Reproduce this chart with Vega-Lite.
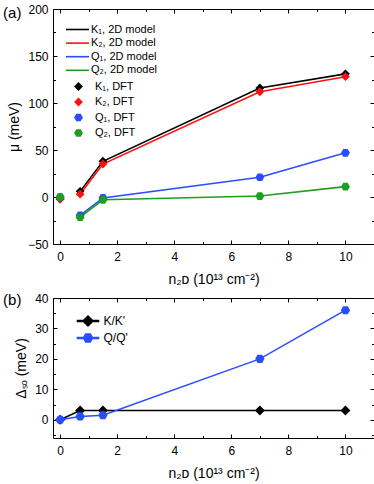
{
  "$schema": "https://vega.github.io/schema/vega-lite/v6.json",
  "padding": {"left": 2, "top": 2, "right": 0, "bottom": 2},
  "spacing": 4,
  "config": {
    "font": "Liberation Sans",
    "view": {"stroke": "black", "strokeWidth": 1},
    "axis": {
      "domain": false, "grid": false,
      "labelFont": "Liberation Sans", "labelFontSize": 12, "labelColor": "black",
      "tickColor": "black", "tickSize": -4, "tickWidth": 1, "labelPadding": 9,
      "titleFont": "Liberation Sans", "titleFontSize": 14, "titleFontWeight": "normal", "titleColor": "black"
    },
    "legend": {"labelFont": "Liberation Sans", "labelColor": "black", "padding": 0}
  },
  "datasets": {
    "modelA": [
      {"n": 0.7, "mu": 6, "band": "K₁, 2D model"},
      {"n": 1.5, "mu": 38, "band": "K₁, 2D model"},
      {"n": 7, "mu": 116, "band": "K₁, 2D model"},
      {"n": 10, "mu": 131, "band": "K₁, 2D model"},
      {"n": 0.7, "mu": 3, "band": "K₂, 2D model"},
      {"n": 1.5, "mu": 35, "band": "K₂, 2D model"},
      {"n": 7, "mu": 112, "band": "K₂, 2D model"},
      {"n": 10, "mu": 128, "band": "K₂, 2D model"},
      {"n": 0.7, "mu": -19.5, "band": "Q₁, 2D model"},
      {"n": 1.5, "mu": -1, "band": "Q₁, 2D model"},
      {"n": 7, "mu": 21, "band": "Q₁, 2D model"},
      {"n": 10, "mu": 47, "band": "Q₁, 2D model"},
      {"n": 0.7, "mu": -21.5, "band": "Q₂, 2D model"},
      {"n": 1.5, "mu": -3, "band": "Q₂, 2D model"},
      {"n": 7, "mu": 1, "band": "Q₂, 2D model"},
      {"n": 10, "mu": 11, "band": "Q₂, 2D model"}
    ],
    "dftA": [
      {"n": 0, "mu": -2, "band": "K₁, DFT"},
      {"n": 0.7, "mu": 6, "band": "K₁, DFT"},
      {"n": 1.5, "mu": 38, "band": "K₁, DFT"},
      {"n": 7, "mu": 116, "band": "K₁, DFT"},
      {"n": 10, "mu": 131, "band": "K₁, DFT"},
      {"n": 0, "mu": -2.5, "band": "K₂, DFT"},
      {"n": 0.7, "mu": 3, "band": "K₂, DFT"},
      {"n": 1.5, "mu": 35, "band": "K₂, DFT"},
      {"n": 7, "mu": 112, "band": "K₂, DFT"},
      {"n": 10, "mu": 128, "band": "K₂, DFT"},
      {"n": 0, "mu": 0, "band": "Q₁, DFT"},
      {"n": 0.7, "mu": -19.5, "band": "Q₁, DFT"},
      {"n": 1.5, "mu": -1, "band": "Q₁, DFT"},
      {"n": 7, "mu": 21, "band": "Q₁, DFT"},
      {"n": 10, "mu": 47, "band": "Q₁, DFT"},
      {"n": 0, "mu": 0, "band": "Q₂, DFT"},
      {"n": 0.7, "mu": -21.5, "band": "Q₂, DFT"},
      {"n": 1.5, "mu": -3, "band": "Q₂, DFT"},
      {"n": 7, "mu": 1, "band": "Q₂, DFT"},
      {"n": 10, "mu": 11, "band": "Q₂, DFT"}
    ],
    "labelA": [{"label": "(a)", "n": -2.0, "mu": 200}],
    "dataB": [
      {"n": 0, "d": 0, "s": "K/K'"},
      {"n": 0.7, "d": 3, "s": "K/K'"},
      {"n": 1.5, "d": 3, "s": "K/K'"},
      {"n": 7, "d": 3, "s": "K/K'"},
      {"n": 10, "d": 3, "s": "K/K'"},
      {"n": 0, "d": 0, "s": "Q/Q'"},
      {"n": 0.7, "d": 1.1, "s": "Q/Q'"},
      {"n": 1.5, "d": 1.5, "s": "Q/Q'"},
      {"n": 7, "d": 20, "s": "Q/Q'"},
      {"n": 10, "d": 36, "s": "Q/Q'"}
    ],
    "labelB": [{"label": "(b)", "n": -2.0, "d": 40}]
  },
  "resolve": {"scale": {"x": "independent", "y": "independent", "shape": "independent", "color": "independent", "fill": "independent", "stroke": "independent", "size": "independent"}},
  "vconcat": [
    {
      "width": 321, "height": 235,
      "resolve": {"axis": {"x": "independent", "y": "independent"}},
      "layer": [
        {
          "data": {"name": "modelA"},
          "mark": {"type": "line", "strokeWidth": 1.6},
          "encoding": {
            "x": {"field": "n", "type": "quantitative", "scale": {"domain": [-0.25, 11], "nice": false, "zero": false},
              "axis": {"orient": "bottom", "values": [0,1,2,3,4,5,6,7,8,9,10], "labelExpr": "datum.value % 2 === 0 ? datum.label : ''", "title": "n₂ᴅ (10¹³ cm⁻²)", "labelPadding": 11, "titlePadding": 10,
                "tickSize": {"condition": {"test": "datum.value % 2 === 0", "value": -4}, "value": -2.5}}},
            "y": {"field": "mu", "type": "quantitative", "scale": {"domain": [-50, 200], "nice": false, "zero": false},
              "axis": {"orient": "left", "values": [-50,-25,0,25,50,75,100,125,150,175,200], "labelExpr": "datum.value % 50 === 0 ? datum.label : ''", "title": "μ (meV)", "titlePadding": 6,
                "tickSize": {"condition": {"test": "datum.value % 50 === 0", "value": -4}, "value": -2.5}}},
            "stroke": {"field": "band", "type": "nominal",
              "scale": {"domain": ["K₁, 2D model", "K₂, 2D model", "Q₁, 2D model", "Q₂, 2D model"], "range": ["#000000", "#ff1010", "#2a4dff", "#1e9e1e"]},
              "legend": {"orient": "none", "legendX": 19, "legendY": 15, "title": null, "symbolType": "M-2.5,0L2.5,0", "symbolSize": 85, "symbolStrokeWidth": 1.6, "labelFontSize": 11, "labelOffset": 8, "rowPadding": 1.6}}
          }
        },
        {
          "data": {"name": "dftA"},
          "mark": {"type": "point", "filled": true, "opacity": 1, "size": 78},
          "encoding": {
            "x": {"field": "n", "type": "quantitative", "axis": null},
            "y": {"field": "mu", "type": "quantitative", "axis": null},
            "fill": {"field": "band", "type": "nominal",
              "scale": {"domain": ["K₁, DFT", "K₂, DFT", "Q₁, DFT", "Q₂, DFT"], "range": ["#000000", "#ff1010", "#2a4dff", "#1e9e1e"]},
              "legend": {"orient": "none", "legendX": 20, "legendY": 72, "title": null, "symbolSize": 78, "labelFontSize": 11, "labelOffset": 11, "rowPadding": 0.5}},
            "shape": {"field": "band", "type": "nominal",
              "scale": {"domain": ["K₁, DFT", "K₂, DFT", "Q₁, DFT", "Q₂, DFT"], "range": ["diamond", "diamond", "M-1,0L-0.5,-0.866L0.5,-0.866L1,0L0.5,0.866L-0.5,0.866Z", "M-1,0L-0.5,-0.866L0.5,-0.866L1,0L0.5,0.866L-0.5,0.866Z"]},
              "legend": {"orient": "none", "legendX": 20, "legendY": 72, "title": null, "symbolSize": 78, "labelFontSize": 11, "labelOffset": 11, "rowPadding": 0.5}}
          }
        },
        {
          "data": {"name": "labelA"},
          "mark": {"type": "text", "align": "left", "baseline": "middle", "fontSize": 15, "dy": 4, "clip": false, "color": "black"},
          "encoding": {
            "x": {"field": "n", "type": "quantitative", "axis": null},
            "y": {"field": "mu", "type": "quantitative", "axis": null},
            "text": {"field": "label"}
          }
        },
        {
          "data": {"name": "dftA"},
          "mark": {"type": "point", "opacity": 0},
          "encoding": {
            "x": {"field": "n", "type": "quantitative", "axis": {"orient": "top", "values": [0,1,2,3,4,5,6,7,8,9,10], "labels": false, "title": null,
              "tickSize": {"condition": {"test": "datum.value % 2 === 0", "value": -4}, "value": -2.5}}},
            "y": {"field": "mu", "type": "quantitative", "axis": {"orient": "right", "values": [-50,-25,0,25,50,75,100,125,150,175,200], "labels": false, "title": null,
              "tickSize": {"condition": {"test": "datum.value % 50 === 0", "value": -4}, "value": -2.5}}}
          }
        }
      ]
    },
    {
      "width": 321, "height": 140,
      "resolve": {"axis": {"x": "independent", "y": "independent"}},
      "layer": [
        {
          "data": {"name": "dataB"},
          "mark": {"type": "line", "strokeWidth": 1.5},
          "encoding": {
            "x": {"field": "n", "type": "quantitative", "scale": {"domain": [-0.25, 11], "nice": false, "zero": false},
              "axis": {"orient": "bottom", "values": [0,1,2,3,4,5,6,7,8,9,10], "labelExpr": "datum.value % 2 === 0 ? datum.label : ''", "title": "n₂ᴅ (10¹³ cm⁻²)", "labelPadding": 11, "titlePadding": 10,
                "tickSize": {"condition": {"test": "datum.value % 2 === 0", "value": -4}, "value": -2.5}}},
            "y": {"field": "d", "type": "quantitative", "scale": {"domain": [-6, 40], "nice": false, "zero": false},
              "axis": {"orient": "left", "values": [-5,0,5,10,15,20,25,30,35,40], "labelExpr": "datum.value % 10 === 0 ? datum.label : ''", "title": "Δₛₒ (meV)", "titlePadding": 6,
                "tickSize": {"condition": {"test": "datum.value % 10 === 0", "value": -4}, "value": -2.5}}},
            "color": {"field": "s", "type": "nominal",
              "scale": {"domain": ["K/K'", "Q/Q'"], "range": ["#000000", "#2a4dff"]},
              "legend": {"orient": "none", "legendX": 29, "legendY": 17, "title": null, "symbolSize": 84, "labelFontSize": 12, "labelOffset": 9.5, "rowPadding": 1}}
          }
        },
        {
          "data": {"name": "dataB"},
          "transform": [{"filter": "false"}],
          "mark": {"type": "point", "filled": true, "opacity": 1},
          "encoding": {
            "x": {"field": "n", "type": "quantitative", "axis": null},
            "y": {"field": "d", "type": "quantitative", "axis": null},
            "color": {"field": "s", "type": "nominal", "scale": {"domain": ["K/K'", "Q/Q'"], "range": ["#000000", "#2a4dff"]}, "legend": null},
            "shape": {"field": "s", "type": "nominal", "scale": {"domain": ["K/K'", "Q/Q'"], "range": ["M-2.3,-0.13L2.3,-0.13L2.3,0.13L-2.3,0.13ZM-1.1,0L0,-1.1L1.1,0L0,1.1Z", "M-2.3,-0.13L2.3,-0.13L2.3,0.13L-2.3,0.13ZM-1,0L-0.5,-0.866L0.5,-0.866L1,0L0.5,0.866L-0.5,0.866Z"]}, "legend": null}
          }
        },
        {
          "data": {"name": "dataB"},
          "transform": [{"filter": "datum.s === \"K/K'\""}],
          "mark": {"type": "point", "filled": true, "opacity": 1, "shape": "diamond", "size": 100, "color": "#000000"},
          "encoding": {
            "x": {"field": "n", "type": "quantitative", "axis": null},
            "y": {"field": "d", "type": "quantitative", "axis": null}
          }
        },
        {
          "data": {"name": "dataB"},
          "transform": [{"filter": "datum.s === \"Q/Q'\""}],
          "mark": {"type": "point", "filled": true, "opacity": 1, "shape": "M-1,0L-0.5,-0.866L0.5,-0.866L1,0L0.5,0.866L-0.5,0.866Z", "size": 87, "color": "#2a4dff"},
          "encoding": {
            "x": {"field": "n", "type": "quantitative", "axis": null},
            "y": {"field": "d", "type": "quantitative", "axis": null}
          }
        },
        {
          "data": {"name": "labelB"},
          "mark": {"type": "text", "align": "left", "baseline": "middle", "fontSize": 15, "dy": 2, "clip": false, "color": "black"},
          "encoding": {
            "x": {"field": "n", "type": "quantitative", "axis": null},
            "y": {"field": "d", "type": "quantitative", "axis": null},
            "text": {"field": "label"}
          }
        },
        {
          "data": {"name": "dataB"},
          "mark": {"type": "point", "opacity": 0},
          "encoding": {
            "x": {"field": "n", "type": "quantitative", "axis": {"orient": "top", "values": [0,1,2,3,4,5,6,7,8,9,10], "labels": false, "title": null,
              "tickSize": {"condition": {"test": "datum.value % 2 === 0", "value": -4}, "value": -2.5}}},
            "y": {"field": "d", "type": "quantitative", "axis": {"orient": "right", "values": [-5,0,5,10,15,20,25,30,35,40], "labels": false, "title": null,
              "tickSize": {"condition": {"test": "datum.value % 10 === 0", "value": -4}, "value": -2.5}}}
          }
        }
      ]
    }
  ]
}
